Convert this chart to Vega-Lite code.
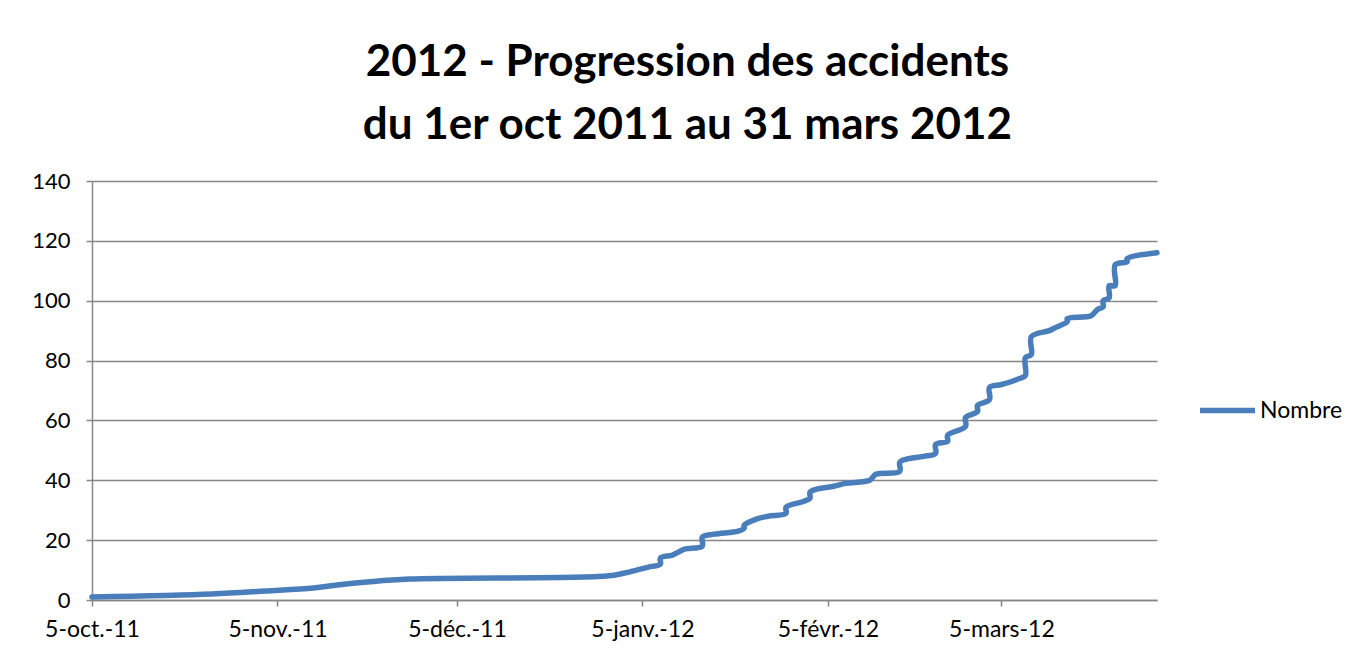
{
  "$schema": "https://vega.github.io/schema/vega-lite/v6.json",
  "width": 1065,
  "height": 419,
  "autosize": {"type": "none"},
  "padding": {"left": 92, "top": 181, "right": 196, "bottom": 60},
  "background": "white",
  "title": {
    "text": ["2012 - Progression des accidents", "du 1er oct 2011 au 31 mars 2012"],
    "font": "Lato",
    "fontSize": 44,
    "fontWeight": "bold",
    "color": "#000000",
    "lineHeight": 63,
    "anchor": "middle",
    "frame": "bounds",
    "offset": 22
  },
  "data": {
    "values": [
      {"date": "2011-10-05", "n": 1},
      {"date": "2011-10-25", "n": 2},
      {"date": "2011-11-03", "n": 3},
      {"date": "2011-11-11", "n": 4},
      {"date": "2011-11-15", "n": 5},
      {"date": "2011-11-20", "n": 6},
      {"date": "2011-11-27", "n": 7},
      {"date": "2011-12-30", "n": 8},
      {"date": "2012-01-02", "n": 9},
      {"date": "2012-01-04", "n": 10},
      {"date": "2012-01-06", "n": 11},
      {"date": "2012-01-08", "n": 12},
      {"date": "2012-01-08", "n": 14},
      {"date": "2012-01-10", "n": 15},
      {"date": "2012-01-11", "n": 16},
      {"date": "2012-01-12", "n": 17},
      {"date": "2012-01-15", "n": 18},
      {"date": "2012-01-15", "n": 21},
      {"date": "2012-01-17", "n": 22},
      {"date": "2012-01-21", "n": 23},
      {"date": "2012-01-22", "n": 24},
      {"date": "2012-01-22", "n": 25},
      {"date": "2012-01-24", "n": 27},
      {"date": "2012-01-26", "n": 28},
      {"date": "2012-01-29", "n": 29},
      {"date": "2012-01-29", "n": 31},
      {"date": "2012-02-01", "n": 33},
      {"date": "2012-02-02", "n": 34},
      {"date": "2012-02-02", "n": 36},
      {"date": "2012-02-03", "n": 37},
      {"date": "2012-02-06", "n": 38},
      {"date": "2012-02-08", "n": 39},
      {"date": "2012-02-12", "n": 40},
      {"date": "2012-02-13", "n": 42},
      {"date": "2012-02-17", "n": 43},
      {"date": "2012-02-17", "n": 46},
      {"date": "2012-02-18", "n": 47},
      {"date": "2012-02-21", "n": 48},
      {"date": "2012-02-23", "n": 49},
      {"date": "2012-02-23", "n": 52},
      {"date": "2012-02-25", "n": 53},
      {"date": "2012-02-25", "n": 55},
      {"date": "2012-02-28", "n": 58},
      {"date": "2012-02-28", "n": 61},
      {"date": "2012-03-01", "n": 63},
      {"date": "2012-03-01", "n": 65},
      {"date": "2012-03-03", "n": 67},
      {"date": "2012-03-03", "n": 71},
      {"date": "2012-03-05", "n": 72},
      {"date": "2012-03-08", "n": 74},
      {"date": "2012-03-09", "n": 75},
      {"date": "2012-03-09", "n": 81},
      {"date": "2012-03-10", "n": 82},
      {"date": "2012-03-10", "n": 88},
      {"date": "2012-03-13", "n": 90},
      {"date": "2012-03-14", "n": 91},
      {"date": "2012-03-16", "n": 93},
      {"date": "2012-03-16", "n": 94},
      {"date": "2012-03-20", "n": 95},
      {"date": "2012-03-21", "n": 97},
      {"date": "2012-03-22", "n": 98},
      {"date": "2012-03-22", "n": 100},
      {"date": "2012-03-23", "n": 101},
      {"date": "2012-03-23", "n": 105},
      {"date": "2012-03-24", "n": 105},
      {"date": "2012-03-24", "n": 112},
      {"date": "2012-03-26", "n": 113},
      {"date": "2012-03-26", "n": 114},
      {"date": "2012-03-31", "n": 116}
    ]
  },
  "mark": {"type": "line", "strokeWidth": 5.5, "interpolate": "catmull-rom", "strokeCap": "round", "strokeJoin": "round"},
  "encoding": {
    "x": {
      "field": "date",
      "type": "temporal",
      "scale": {
        "type": "utc",
        "domain": [
          {"year": 2011, "month": 10, "date": 5, "utc": true},
          {"year": 2012, "month": 3, "date": 31, "utc": true}
        ],
        "nice": false
      },
      "axis": {
        "title": null,
        "grid": false,
        "values": [
          {"year": 2011, "month": 10, "date": 5, "utc": true},
          {"year": 2011, "month": 11, "date": 5, "utc": true},
          {"year": 2011, "month": 12, "date": 5, "utc": true},
          {"year": 2012, "month": 1, "date": 5, "utc": true},
          {"year": 2012, "month": 2, "date": 5, "utc": true},
          {"year": 2012, "month": 3, "date": 5, "utc": true}
        ],
        "labelExpr": "'5-' + ['janv.','févr.','mars','avr.','mai','juin','juil.','août','sept.','oct.','nov.','déc.'][utcmonth(datum.value)] + '-' + utcFormat(datum.value, '%y')",
        "labelFont": "Lato",
        "labelFontSize": 23,
        "labelColor": "#000000",
        "labelPadding": 12,
        "labelFlush": false,
        "labelOverlap": false,
        "domainColor": "#868686",
        "domainWidth": 1.5,
        "tickColor": "#868686",
        "tickSize": 6,
        "tickWidth": 1.5
      }
    },
    "y": {
      "field": "n",
      "type": "quantitative",
      "scale": {"domain": [0, 140], "nice": false},
      "axis": {
        "title": null,
        "values": [0, 20, 40, 60, 80, 100, 120, 140],
        "labelFont": "Lato",
        "labelFontSize": 22,
        "labelColor": "#000000",
        "labelPadding": 16,
        "domainColor": "#868686",
        "domainWidth": 1.5,
        "tickColor": "#868686",
        "tickSize": 6,
        "tickWidth": 1.5,
        "gridColor": "#868686",
        "gridWidth": 1.5
      }
    },
    "color": {
      "datum": "Nombre",
      "type": "nominal",
      "scale": {"range": ["#4A7EBB"]},
      "legend": {
        "title": null,
        "orient": "none",
        "legendX": 1105,
        "legendY": 199,
        "padding": 0,
        "symbolType": "stroke",
        "symbolSize": 3025,
        "symbolStrokeWidth": 5.5,
        "labelFont": "Lato",
        "labelFontSize": 23,
        "labelColor": "#000000",
        "labelOffset": 2
      }
    }
  },
  "config": {
    "view": {"stroke": null}
  }
}
